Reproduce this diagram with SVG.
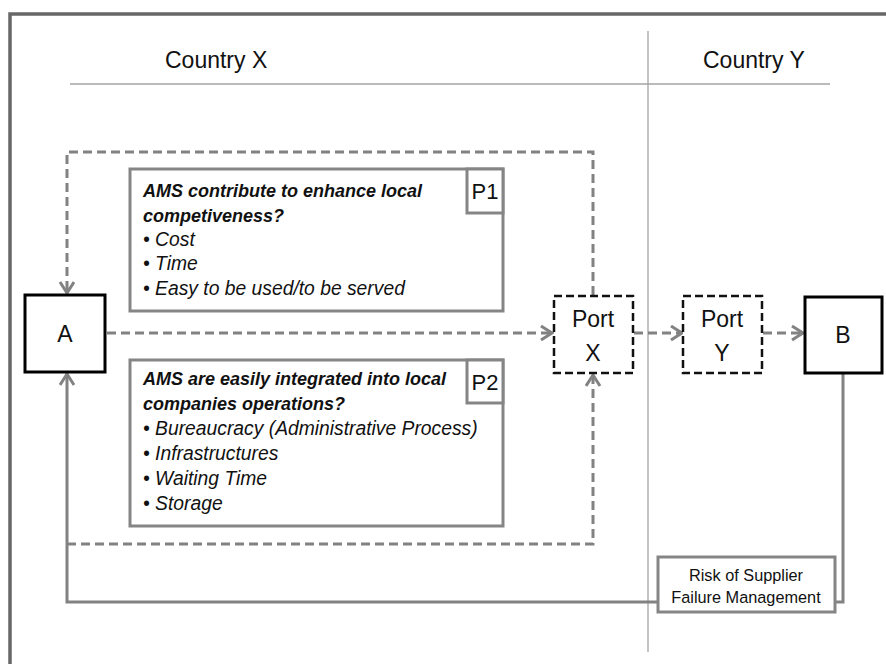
<svg xmlns="http://www.w3.org/2000/svg" width="886" height="664" viewBox="0 0 886 664">
  <style>
    .lbl { font-family: "Liberation Sans", Arial, sans-serif; fill: #111; }
    .big { font-size: 23px; text-anchor: middle; }
    .country { font-size: 23px; }
    .head { font-size: 18px; font-weight: bold; font-style: italic; }
    .item { font-size: 19.3px; font-style: italic; }
    .risk { font-size: 16.3px; text-anchor: middle; }
    .node { fill: #fff; stroke: #000; stroke-width: 3; }
    .port { fill: #fff; stroke: #111; stroke-width: 2.5; stroke-dasharray: 8 4; }
    .panel { fill: #fff; stroke: #858585; stroke-width: 3; }
    .conn { fill: none; stroke: #828282; stroke-width: 3; }
    .dash { stroke-dasharray: 9 5; }
  </style>
  <defs>
    <marker id="arrow" markerUnits="userSpaceOnUse" markerWidth="16" markerHeight="18" refX="12" refY="8" orient="auto">
      <path d="M1,1 L12,8 L1,15" fill="none" stroke="#828282" stroke-width="3" stroke-dasharray="none"/>
    </marker>
  </defs>

  <rect width="886" height="664" fill="#fff"/>

  <!-- outer frame (runs off the page on the right and bottom) -->
  <rect x="10" y="14" width="900" height="700" fill="none" stroke="#676767" stroke-width="3.5"/>

  <!-- country headings and dividers -->
  <g id="countries">
    <line x1="648" y1="31" x2="648" y2="652" stroke="#a3a3a3" stroke-width="1.3"/>
    <line x1="70" y1="84" x2="830" y2="84" stroke="#a3a3a3" stroke-width="1.6"/>
    <text class="lbl country" x="165" y="68">Country X</text>
    <text class="lbl country" x="703" y="68">Country Y</text>
  </g>

  <!-- connectors -->
  <g id="connectors">
    <path class="conn dash" d="M107,333 H552" marker-end="url(#arrow)"/>
    <path class="conn dash" d="M634,333 H682" marker-end="url(#arrow)"/>
    <path class="conn dash" d="M763,333 H803" marker-end="url(#arrow)"/>
    <path class="conn dash" d="M593,295 V152 H67 V293" marker-end="url(#arrow)"/>
    <path class="conn dash" d="M67,544 H593 V375" marker-end="url(#arrow)"/>
    <path class="conn" d="M843,374 V602 H836"/>
    <path class="conn" d="M657,602 H67 V374" marker-end="url(#arrow)"/>
  </g>

  <g id="node-a">
    <rect class="node" x="25" y="295" width="80" height="77"/>
    <text class="lbl big" x="65" y="342">A</text>
  </g>

  <g id="node-port-x">
    <rect class="port" x="554" y="296" width="79" height="77"/>
    <text class="lbl big" x="593" y="327">Port</text>
    <text class="lbl big" x="593" y="361">X</text>
  </g>

  <g id="node-port-y">
    <rect class="port" x="683" y="296" width="79" height="77"/>
    <text class="lbl big" x="722" y="327">Port</text>
    <text class="lbl big" x="722" y="361">Y</text>
  </g>

  <g id="node-b">
    <rect class="node" x="805" y="297" width="77" height="76"/>
    <text class="lbl big" x="843" y="343">B</text>
  </g>

  <g id="panel-p1">
    <rect class="panel" x="130" y="169" width="373" height="142"/>
    <rect class="panel" x="467" y="169" width="36" height="44"/>
    <text class="lbl big" x="485" y="199" style="font-size:22px">P1</text>
    <text class="lbl head" x="143" y="197">AMS contribute to enhance local</text>
    <text class="lbl head" x="143" y="222">competiveness?</text>
    <text class="lbl item" x="143" y="246">• Cost</text>
    <text class="lbl item" x="143" y="270">• Time</text>
    <text class="lbl item" x="143" y="295">• Easy to be used/to be served</text>
  </g>

  <g id="panel-p2">
    <rect class="panel" x="130" y="360" width="373" height="166"/>
    <rect class="panel" x="467" y="360" width="36" height="43"/>
    <text class="lbl big" x="485" y="390" style="font-size:22px">P2</text>
    <text class="lbl head" x="143" y="385">AMS are easily integrated into local</text>
    <text class="lbl head" x="143" y="410">companies operations?</text>
    <text class="lbl item" x="143" y="435">• Bureaucracy (Administrative Process)</text>
    <text class="lbl item" x="143" y="460">• Infrastructures</text>
    <text class="lbl item" x="143" y="485">• Waiting Time</text>
    <text class="lbl item" x="143" y="510">• Storage</text>
  </g>

  <g id="node-risk">
    <rect class="panel" x="658" y="557" width="177" height="55" stroke-width="3.5"/>
    <text class="lbl risk" x="746" y="581">Risk of Supplier</text>
    <text class="lbl risk" x="746" y="603">Failure Management</text>
  </g>
</svg>
